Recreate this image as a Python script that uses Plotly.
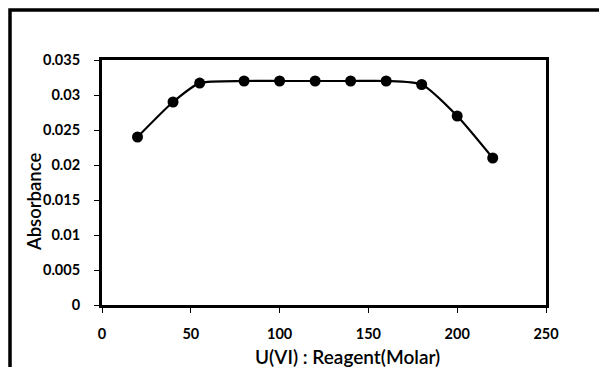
import plotly.graph_objects as go

ratio = [20, 40, 55, 80, 100, 120, 140, 160, 180, 200, 220]
absorbance = [0.024, 0.029, 0.0317, 0.032, 0.032, 0.032, 0.032, 0.032, 0.0315, 0.027, 0.021]
x_ticks = [0, 50, 100, 150, 200, 250]
y_ticks = [0, 0.005, 0.01, 0.015, 0.02, 0.025, 0.03, 0.035]
y_tick_text = ["0", "0.005", "0.01", "0.015", "0.02", "0.025", "0.03", "0.035"]

FONT = "Lato"

fig = go.Figure()
fig.add_trace(go.Scatter(
    x=ratio, y=absorbance, mode="lines+markers",
    line=dict(color="black", width=2.2, shape="spline", smoothing=0.6),
    marker=dict(color="black", size=11, symbol="circle"),
    showlegend=False,
))

fig.update_layout(
    width=599, height=367,
    margin=dict(l=102, r=53, t=60, b=62),
    paper_bgcolor="white", plot_bgcolor="white",
    font=dict(family=FONT, color="black"),
    xaxis=dict(range=[0, 250], tickvals=x_ticks, showgrid=False, zeroline=False,
               showline=True, linecolor="black", linewidth=3, mirror=True,
               ticks="outside", ticklen=5, tickwidth=1, tickcolor="black",
               ticklabelstandoff=9,
               tickfont=dict(family=FONT, size=14.5, color="black", weight="bold")),
    yaxis=dict(range=[0, 0.035], tickvals=y_ticks, ticktext=y_tick_text,
               showgrid=False, zeroline=False,
               showline=True, linecolor="black", linewidth=3, mirror=True,
               ticks="outside", ticklen=5, tickwidth=1, tickcolor="black",
               ticklabelstandoff=11,
               tickfont=dict(family=FONT, size=14.5, color="black", weight="bold")),
    shapes=[dict(type="rect", xref="paper", yref="paper",
                 x0=(10 - 102) / 444, x1=1.5, y0=-1.0, y1=(305 - 10) / 245,
                 line=dict(color="black", width=3.5), fillcolor="rgba(0,0,0,0)",
                 layer="above")],
    annotations=[
        dict(text="U(VI) : Reagent(Molar)", xref="paper", yref="paper",
             x=(347 - 102) / 444, y=(305 - 357) / 245, showarrow=False,
             font=dict(family=FONT, size=19, color="black", weight=600),
             xanchor="center", yanchor="middle"),
        dict(text="Absorbance", xref="paper", yref="paper",
             x=(34 - 102) / 444, y=(305 - 202) / 245, showarrow=False, textangle=-90,
             font=dict(family=FONT, size=18.5, color="black", weight=600),
             xanchor="center", yanchor="middle"),
    ],
)

fig.write_html("out.html")
